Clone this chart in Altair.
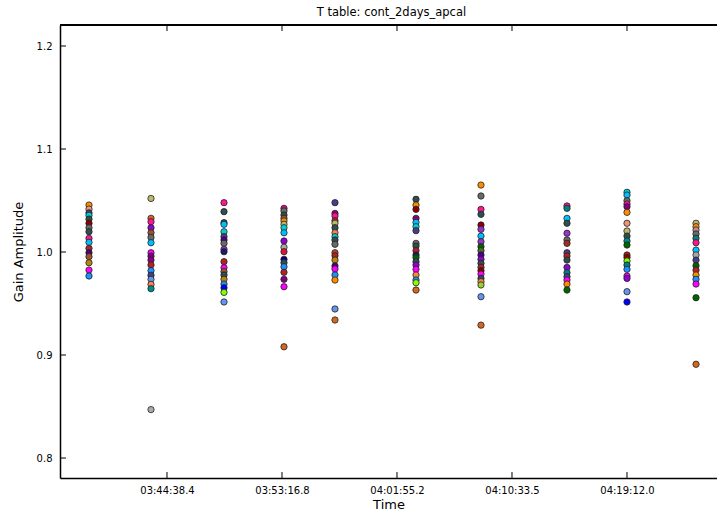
import altair as alt
import pandas as pd

title_text = "T table: cont_2days_apcal"
x_title = "Time"
y_title = "Gain Amplitude"

# column times (seconds of day)
times = [13126.8, 13406.3, 13735.4, 14005.8, 14235.7, 14600.9, 14893.8, 15281.5, 15552.0, 15863.1]

amp_1 = [1.0456, 1.0417, 1.038, 1.0356, 1.032, 1.0279, 1.0236, 1.0197, 1.0133, 1.0094, 1.0036, 0.9993, 0.9955, 0.9896, 0.9825, 0.9767]
col_1 = ["#FF8C00", "#E9967A", "#483D8B", "#00CED1", "#2F4F4F", "#8B0000", "#696969", "#2F4F4F", "#FF1493", "#00BFFF", "#B22222", "#4B0082", "#A0522D", "#B8860B", "#FF00FF", "#1E90FF"]

amp_2 = [1.052, 1.0327, 1.0294, 1.0236, 1.0187, 1.0142, 1.009, 0.9993, 0.996, 0.9922, 0.9874, 0.9819, 0.9774, 0.9735, 0.9686, 0.9644, 0.847]
col_2 = ["#BDB76B", "#D2691E", "#FF1493", "#9400D3", "#A0522D", "#696969", "#00BFFF", "#FF00FF", "#800080", "#8B008B", "#B22222", "#1E90FF", "#483D8B", "#6495ED", "#FF7F50", "#008B8B", "#A9A9A9"]

amp_3 = [1.0479, 1.0392, 1.0285, 1.0269, 1.0197, 1.0149, 1.0117, 1.0084, 1.0026, 1.0003, 0.9906, 0.9848, 0.981, 0.9777, 0.9735, 0.9689, 0.9653, 0.9608, 0.9515]
col_3 = ["#FF1493", "#2F4F4F", "#2F4F4F", "#00BFFF", "#00CED1", "#483D8B", "#4B0082", "#696969", "#9932CC", "#191970", "#B22222", "#FF00FF", "#A0522D", "#2F4F4F", "#B8860B", "#1E90FF", "#0000FF", "#7FFF00", "#6495ED"]

amp_4 = [1.0424, 1.0398, 1.0359, 1.0327, 1.0301, 1.0269, 1.0236, 1.0187, 1.0107, 1.0046, 1.0003, 0.9929, 0.9896, 0.9857, 0.9803, 0.9735, 0.9663, 0.908]
col_4 = ["#C71585", "#696969", "#2F4F4F", "#A0522D", "#FF8C00", "#BDB76B", "#00CED1", "#00BFFF", "#9400D3", "#A9A9A9", "#DC143C", "#000080", "#2F4F4F", "#1E90FF", "#B22222", "#800080", "#FF00FF", "#D2691E"]

amp_5 = [1.0479, 1.0375, 1.035, 1.0304, 1.0279, 1.0236, 1.0187, 1.0149, 1.0117, 1.0075, 0.9993, 0.9964, 0.9922, 0.9864, 0.9835, 0.9777, 0.9728, 0.9447, 0.934]
col_5 = ["#483D8B", "#8B008B", "#FF1493", "#A52A2A", "#BDB76B", "#2F4F4F", "#FF7F50", "#00CED1", "#2F4F4F", "#696969", "#A0522D", "#B22222", "#B8860B", "#4B0082", "#FF00FF", "#1E90FF", "#FF8C00", "#6495ED", "#D2691E"]

amp_6 = [1.0512, 1.0456, 1.0414, 1.0327, 1.0288, 1.0246, 1.0207, 1.0084, 1.0058, 1.0013, 0.9971, 0.9945, 0.9906, 0.9874, 0.9832, 0.9777, 0.9728, 0.9702, 0.9631]
col_6 = ["#2F4F4F", "#FF8C00", "#8B0000", "#8B008B", "#00BFFF", "#00CED1", "#483D8B", "#696969", "#2F4F4F", "#B22222", "#191970", "#006400", "#2F4F4F", "#9400D3", "#FF00FF", "#FF7F50", "#1E90FF", "#7FFF00", "#D2691E"]

amp_7 = [1.065, 1.0544, 1.0414, 1.0366, 1.0262, 1.022, 1.0155, 1.01, 1.0052, 1.0013, 0.9971, 0.9929, 0.989, 0.9851, 0.9819, 0.9786, 0.9744, 0.9712, 0.968, 0.9566, 0.929]
col_7 = ["#FF8C00", "#696969", "#FF1493", "#2F4F4F", "#8B0000", "#9932CC", "#00BFFF", "#9932CC", "#006400", "#556B2F", "#4B0082", "#9400D3", "#2F4F4F", "#B22222", "#8B0000", "#FF00FF", "#2F4F4F", "#FF7F50", "#9ACD32", "#6495ED", "#D2691E"]

amp_8 = [1.0447, 1.0424, 1.0327, 1.0279, 1.0182, 1.0117, 1.0084, 0.9993, 0.9961, 0.9922, 0.9851, 0.9799, 0.976, 0.9728, 0.9689, 0.9631]
col_8 = ["#FF1493", "#008080", "#00BFFF", "#2F4F4F", "#9932CC", "#696969", "#A52A2A", "#483D8B", "#B22222", "#2F4F4F", "#9400D3", "#008080", "#483D8B", "#FF00FF", "#FF8C00", "#006400"]

amp_9 = [1.058, 1.0553, 1.0498, 1.0466, 1.044, 1.0385, 1.0279, 1.0204, 1.0155, 1.0107, 1.0068, 0.9971, 0.9948, 0.9913, 0.9874, 0.9832, 0.9767, 0.9744, 0.9615, 0.9515]
col_9 = ["#00CED1", "#00BFFF", "#696969", "#FF1493", "#800080", "#FF8C00", "#E9967A", "#BDB76B", "#2F4F4F", "#008B8B", "#006400", "#B22222", "#8B0000", "#7FFF00", "#008080", "#1E90FF", "#FF00FF", "#9400D3", "#6495ED", "#0000FF"]

amp_10 = [1.0279, 1.0246, 1.0214, 1.0175, 1.0133, 1.009, 1.0019, 0.9971, 0.9922, 0.9867, 0.9825, 0.9777, 0.9735, 0.9689, 0.9556, 0.891]
col_10 = ["#BDB76B", "#FF8C00", "#BC8F8F", "#696969", "#008080", "#FF1493", "#00BFFF", "#A9A9A9", "#483D8B", "#006400", "#B22222", "#FF8C00", "#1E90FF", "#FF00FF", "#006400", "#D2691E"]

x_tick_values = [13478.4, 13996.8, 14515.2, 15033.6, 15552.0]
x_tick_labels = ["03:44:38.4", "03:53:16.8", "04:01:55.2", "04:10:33.5", "04:19:12.0"]
y_tick_values = [0.8, 0.9, 1.0, 1.1, 1.2]

x_domain = [12996.1, 15957.7]
y_domain = [0.7806, 1.2204]

W, H = 657, 453

amps = [amp_1, amp_2, amp_3, amp_4, amp_5, amp_6, amp_7, amp_8, amp_9, amp_10]
cols = [col_1, col_2, col_3, col_4, col_5, col_6, col_7, col_8, col_9, col_10]
rows = []
for t, a_list, c_list in zip(times, amps, cols):
    for i, (a, c) in enumerate(zip(a_list, c_list)):
        rows.append({"time": t, "amp": a, "color": c, "order": i})
df = pd.DataFrame(rows)

label_expr = "''"
for v, lab in reversed(list(zip(x_tick_values, x_tick_labels))):
    label_expr = f"abs(datum.value - {v}) < 1 ? '{lab}' : ({label_expr})"

xscale = alt.Scale(domain=x_domain, nice=False, zero=False)
yscale = alt.Scale(domain=y_domain, nice=False, zero=False)

points = alt.Chart(df).mark_circle(size=40, opacity=1, stroke="#222222", strokeWidth=0.8).encode(
    x=alt.X("time:Q", scale=xscale,
            axis=alt.Axis(values=x_tick_values, labelExpr=label_expr, title=x_title,
                          grid=False, ticks=False, tickSize=0, domainColor="black", domainWidth=1.5,
                          labelFont="DejaVu Sans", labelFontSize=10, labelColor="black", labelPadding=7,
                          titleFont="DejaVu Sans", titleFontSize=13, titleFontWeight="normal",
                          titleColor="black", titlePadding=3)),
    y=alt.Y("amp:Q", scale=yscale,
            axis=alt.Axis(values=y_tick_values, format=".1f", title=y_title,
                          grid=False, ticks=False, tickSize=0, domainColor="black", domainWidth=1.5,
                          labelFont="DejaVu Sans", labelFontSize=10, labelColor="black", labelPadding=8,
                          titleFont="DejaVu Sans", titleFontSize=13, titleFontWeight="normal",
                          titleColor="black", titlePadding=11)),
    color=alt.Color("color:N", scale=None),
    order="order:Q",
)

xt_df = pd.DataFrame({"t": x_tick_values})
yt_df = pd.DataFrame({"v": y_tick_values})

bottom_ticks = alt.Chart(xt_df).mark_rule(color="black", strokeWidth=1).encode(
    x=alt.X("t:Q", scale=xscale), y=alt.value(H), y2=alt.value(H - 6))
top_ticks = alt.Chart(xt_df).mark_rule(color="black", strokeWidth=1).encode(
    x=alt.X("t:Q", scale=xscale), y=alt.value(0), y2=alt.value(6))
left_ticks = alt.Chart(yt_df).mark_rule(color="black", strokeWidth=1).encode(
    y=alt.Y("v:Q", scale=yscale), x=alt.value(0), x2=alt.value(6))
top_line = alt.Chart(xt_df).mark_rule(color="black", strokeWidth=1.5).encode(
    x=alt.value(0), x2=alt.value(W), y=alt.value(0))

chart = alt.layer(points, bottom_ticks, top_ticks, left_ticks, top_line).properties(
    width=W, height=H,
    title=alt.TitleParams(title_text, font="DejaVu Sans", fontSize=11.5, fontWeight="normal",
                          color="black", anchor="middle", offset=6, dx=3),
    autosize=alt.AutoSizeParams(type="none"),
    padding={"left": 60, "top": 25, "right": 0, "bottom": 35},
).configure_view(strokeOpacity=0).configure(background="white")

chart.save("out.html", embed_options={"renderer": "svg", "actions": False})
